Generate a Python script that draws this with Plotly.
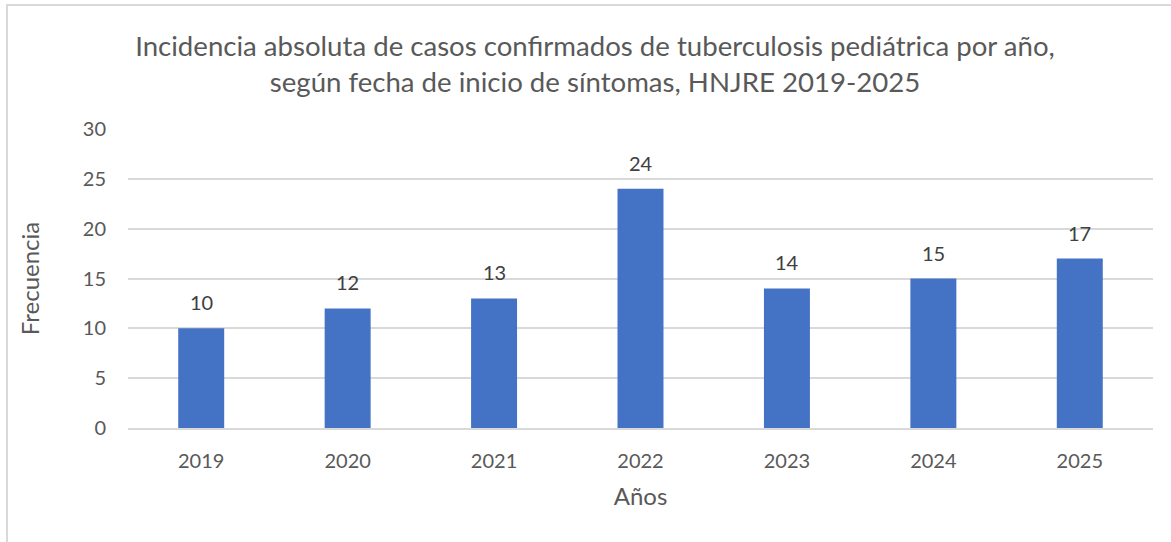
import plotly.graph_objects as go

years = ["2019", "2020", "2021", "2022", "2023", "2024", "2025"]
cases = [10, 12, 13, 24, 14, 15, 17]
y_ticks = [0, 5, 10, 15, 20, 25, 30]

title_text = ("Incidencia absoluta de casos confirmados de tuberculosis pediátrica por año,"
              "<br>según fecha de inicio de síntomas, HNJRE 2019-2025")

FONT = "Lato, 'Open Sans', sans-serif"

fig = go.Figure(go.Bar(
    x=years, y=cases,
    marker=dict(color="#4472C4", line=dict(width=0)),
))

# data labels: category axes index categories by their serial number
annotations = [dict(x=i, y=v, xref="x", yref="y", text=str(v), showarrow=False,
                    yanchor="bottom", yshift=12,
                    font=dict(family=FONT, size=20, color="#404040"))
               for i, v in enumerate(cases)]

fig.update_layout(
    width=1171, height=542,
    paper_bgcolor="white", plot_bgcolor="white",
    margin=dict(l=128, r=18, t=129, b=114),
    bargap=0.686,
    showlegend=False,
    annotations=annotations,
    title=dict(text=title_text, x=595 / 1171, xanchor="center", xref="container",
               y=1 - 56 / 542, yref="container", yanchor="top",
               font=dict(family=FONT, size=27.6, color="#595959")),
    xaxis=dict(
        type="category", range=[-0.5, len(years) - 0.5],
        tickfont=dict(family=FONT, size=20, color="#595959"),
        title=dict(text="Años", font=dict(family=FONT, size=24, color="#595959"), standoff=17),
        showgrid=False, showline=True, linecolor="#D9D9D9", linewidth=1.5,
        ticks="", ticklabelstandoff=14,
    ),
    yaxis=dict(
        range=[0, 30], tickvals=y_ticks,
        tickfont=dict(family=FONT, size=20, color="#595959"),
        title=dict(text="Frecuencia", font=dict(family=FONT, size=24, color="#595959"), standoff=36),
        showgrid=True, gridcolor="#D9D9D9", gridwidth=1.5,
        zeroline=False, showline=False, ticks="", ticklabelstandoff=21,
    ),
    shapes=[dict(type="rect", xref="paper", yref="paper",
                 x0=(7 - 128) / 1025, x1=1.3, y0=-0.6, y1=1 + (129 - 5) / 299,
                 line=dict(color="#D9D9D9", width=2), fillcolor="rgba(0,0,0,0)", layer="below")],
)

fig.write_html("out.html", config={"displayModeBar": False},
               post_script="document.body.style.margin='0';")
